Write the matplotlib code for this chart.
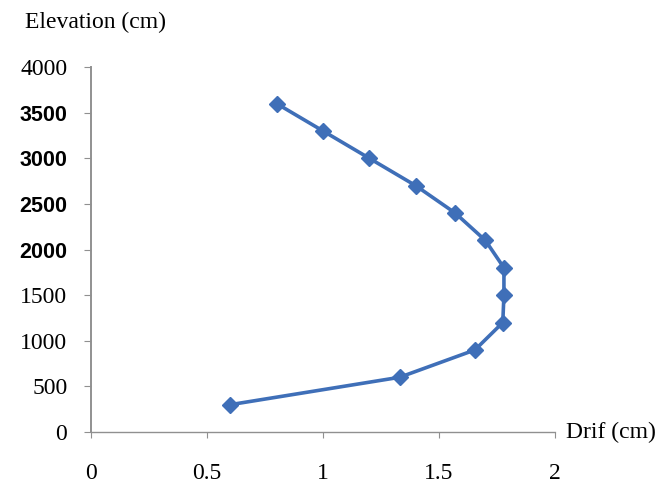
import matplotlib
matplotlib.use("Agg")
import matplotlib.pyplot as plt

# drift (cm) vs elevation (cm)
drift = [0.6, 1.33, 1.655, 1.775, 1.78, 1.78, 1.70, 1.57, 1.40, 1.20, 1.0, 0.8]
elevation = [300, 600, 900, 1200, 1500, 1800, 2100, 2400, 2700, 3000, 3300, 3600]

x_ticks = [0, 0.5, 1, 1.5, 2]
x_tick_labels = ["0", "0.5", "1", "1.5", "2"]
y_ticks = [0, 500, 1000, 1500, 2000, 2500, 3000, 3500, 4000]
y_tick_labels = ["0", "500", "1000", "1500", "2000", "2500", "3000", "3500", "4000"]
bold_labels = ["2000", "2500", "3000", "3500"]

fig = plt.figure(figsize=(6.66, 4.86), dpi=100)
ax = fig.add_axes([0.1366, 0.111, 0.6967, 0.751])

ax.plot(drift, elevation, color="#3F6FB8", linewidth=2.6, marker="D",
        markersize=8.5, markerfacecolor="#3F6FB8", markeredgecolor="#3F6FB8")

fs = 17
ax.set_xlim(0, 2)
ax.set_ylim(0, 4000)
ax.set_xticks(x_ticks)
ax.set_xticklabels(x_tick_labels, family="Liberation Serif", fontsize=fs)
ax.set_yticks(y_ticks)
ax.set_yticklabels(y_tick_labels, family="Liberation Serif", fontsize=fs)
for lab in ax.get_yticklabels():
    if lab.get_text() in bold_labels:
        lab.set_family("Liberation Sans")
        lab.set_fontweight("bold")
        lab.set_fontsize(15.5)

ax.tick_params(axis="x", direction="out", length=4, color="#909090", pad=18)
ax.tick_params(axis="y", direction="out", length=5, color="#909090", pad=12)

for s in ["top", "right"]:
    ax.spines[s].set_visible(False)
ax.spines["left"].set_color("#909090")
ax.spines["left"].set_linewidth(1.4)
ax.spines["bottom"].set_color("#909090")
ax.spines["bottom"].set_linestyle((0, (1.5, 1)))
ax.spines["bottom"].set_linewidth(1.0)

fig.text(25 / 666, 1 - 22 / 486, "Elevation (cm)", family="Liberation Serif",
         fontsize=fs, va="center", ha="left")
fig.text(566 / 666, 1 - 432 / 486, "Drif (cm)", family="Liberation Serif",
         fontsize=fs, va="center", ha="left")

fig.savefig("out.png", dpi=100)
